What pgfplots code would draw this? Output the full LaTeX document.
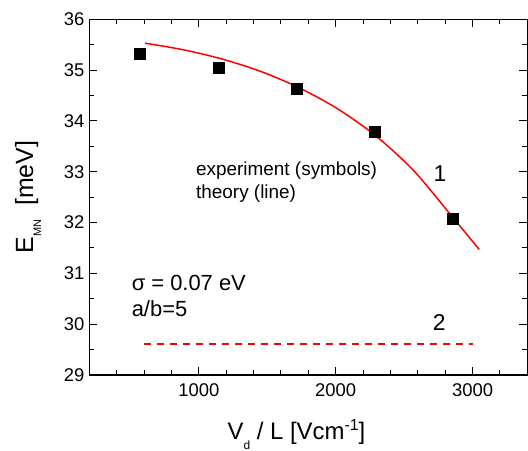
\documentclass[border=0pt]{standalone}
\usepackage{fontspec}
\setmainfont{Liberation Sans}
\usepackage{pgfplots}
\pgfplotsset{compat=1.18}

\begin{document}
\begin{tikzpicture}
\begin{axis}[
    name=ax,
    scale only axis,
    width=438bp, height=355.7bp,
    xmin=200, xmax=3400, ymin=29, ymax=36,
    xtick={1000,2000,3000},
    minor xtick={400,600,...,3200},
    ytick={29,30,...,36},
    minor ytick={29.5,30.5,...,35.5},
    major tick length=8bp, minor tick length=5bp,
    tick style={black, line width=1bp},
    axis line style={line width=1.2bp},
    /pgf/number format/assume math mode=true,
    /pgf/number format/1000 sep={},
    tick label style={font=\fontsize{18.5}{20}\selectfont},
    xticklabel style={yshift=-5bp},
    yticklabel style={xshift=-1.5bp},
    xlabel={V\raisebox{-10bp}{\fontsize{12}{12}\selectfont d} / L [Vcm\raisebox{9bp}{\fontsize{16}{16}\selectfont -1}]},
    ylabel={E\raisebox{-8bp}{\fontsize{11}{11}\selectfont MN}\ \ [meV]},
    xlabel style={at={(axis description cs:0.473,-0.18)}, anchor=base, font=\fontsize{24}{26}\selectfont},
    ylabel style={at={(axis description cs:-0.1285,0.5)}, anchor=base, font=\fontsize{25}{27}\selectfont},
    clip=false,
]
% theory, curve 1
\addplot[red, line width=1.5bp, smooth] coordinates {
    (607,35.53) (887,35.40) (1167,35.22) (1447,34.98) (1727,34.66)
    (2007,34.25) (2287,33.72) (2567,33.03) (2847,32.13) (3049,31.47)
};
% curve 2
\addplot[red, line width=1.5bp, dash pattern=on 7bp off 6bp] coordinates {
    (600,29.61) (3000,29.61)
};
% experiment
\addplot[only marks, mark=square*, mark size=5.5bp, black] coordinates {
    (571,35.32) (1142,35.05) (1713,34.64) (2285,33.79) (2856,32.08)
};

\node[anchor=base west, font=\fontsize{19}{21}\selectfont, inner sep=0pt] at (axis cs:979,32.92) {experiment (symbols)};
\node[anchor=base west, font=\fontsize{19}{21}\selectfont, inner sep=0pt] at (axis cs:979,32.48) {theory (line)};
\node[anchor=base west, font=\fontsize{22}{24}\selectfont, inner sep=0pt] at (axis cs:509,30.66) {σ = 0.07 eV};
\node[anchor=base west, font=\fontsize{22}{24}\selectfont, inner sep=0pt] at (axis cs:509,30.15) {a/b=5};
\node[anchor=base west, font=\fontsize{23}{25}\selectfont, inner sep=0pt] at (axis cs:2715,32.80) {1};
\node[anchor=base west, font=\fontsize{23}{25}\selectfont, inner sep=0pt] at (axis cs:2708,29.88) {2};
\end{axis}
\pgfresetboundingbox
\path[use as bounding box] ([xshift=-89.3bp,yshift=-76bp]ax.south west) rectangle ([xshift=0.7bp,yshift=19.3bp]ax.north east);
\end{tikzpicture}
\end{document}
